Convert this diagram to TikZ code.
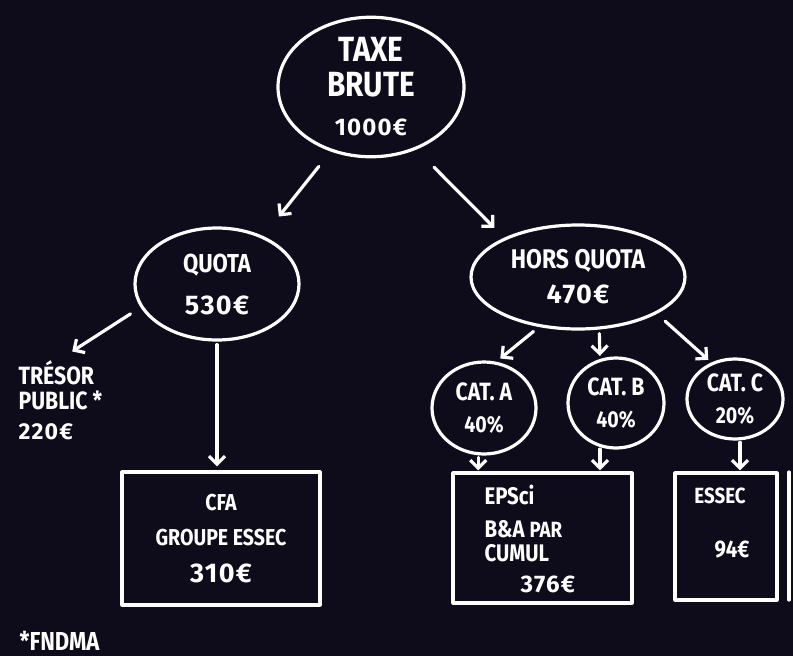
\documentclass[tikz,border=0pt]{standalone}
\usepackage{fontspec}
\setmainfont[FakeStretch=0.85]{Fira Sans}
\newfontfamily\numf[LetterSpace=5]{Fira Sans}
\usetikzlibrary{shapes.geometric,arrows.meta}
\definecolor{board}{HTML}{0E0B1A}
\newcommand{\tsz}[1]{\fontsize{#1}{#1}\selectfont\bfseries}
\newcommand{\nsz}[1]{\numf\fontsize{#1}{#1}\selectfont\bfseries}
\begin{document}
\begin{tikzpicture}[x=1pt,y=-1pt,line width=3.2pt,white,line cap=round,line join=round,
  bub/.style={draw,ellipse,inner sep=0pt,align=center},
  frame/.style={draw,rectangle,inner sep=0pt},
  lbl/.style={inner sep=0pt},
  arr/.style={-{Straight Barb[length=8pt,width=16pt]}}]
\useasboundingbox (0,0) rectangle (793,656);
\fill[board] (0,0) rectangle (793,656);

% ellipses
\node[bub,minimum width=186pt,minimum height=136pt,font=\tsz{35}] (taxe) at (371,87)
  {TAXE\\BRUTE\\[4pt]{\nsz{24}1000€}};
\node[bub,minimum width=164pt,minimum height=112pt,font=\tsz{26}] (quota) at (217,284)
  {QUOTA\\[16pt]{\nsz{27}530€}};
\node[bub,minimum width=214pt,minimum height=104pt,font=\tsz{27}] (hors) at (578,277)
  {HORS QUOTA\\[8pt]{\nsz{27}470€}};
\node[bub,minimum width=104pt,minimum height=92pt,font=\tsz{25}] (catA) at (484,408)
  {CAT. A\\[7pt]{\tsz{23}40\%}};
\node[bub,minimum width=96pt,minimum height=90pt,font=\tsz{25}] (catB) at (616,403)
  {CAT. B\\[7pt]{\tsz{23}40\%}};
\node[bub,minimum width=96pt,minimum height=80pt,font=\tsz{25}] (catC) at (735,399)
  {CAT. C\\[7pt]{\tsz{23}20\%}};

% texts
\node[lbl,anchor=north west,align=left,font=\tsz{25}] (tresor) at (17,359)
  {TRÉSOR\\[0pt]PUBLIC *\\[5pt]{\nsz{23}220€}};
\node[lbl,anchor=west,font=\tsz{26}] (fndma) at (18,641) {*FNDMA};

% boxes
\node[frame,minimum width=198pt,minimum height=133pt,align=center,font=\tsz{23}] (cfa) at (221,538.5)
  {CFA\\[12pt]GROUPE ESSEC\\[14pt]{\nsz{27}310€}};
\node[frame,minimum width=179pt,minimum height=130pt] (epsci) at (542.5,538) {};
\node[lbl,anchor=west,font=\tsz{24}] (ep1) at (483,495) {EPSci};
\node[lbl,anchor=west,font=\tsz{24}] (ep2) at (483,529) {B\&A {\tsz{22}PAR}};
\node[lbl,anchor=west,font=\tsz{24}] (ep3) at (483,553) {CUMUL};
\node[lbl,anchor=west,font=\tsz{24}] (ep4) at (519,584) {\nsz{24}376€};
\node[frame,minimum width=102pt,minimum height=127pt] (essec) at (726,536.5) {};
\node[lbl,font=\tsz{22}] (essectxt) at (720,496) {ESSEC};
\node[lbl,font=\tsz{24}] (essecval) at (732,550) {94€};
\draw (789,472) -- (789,600);

% arrows
\draw[arr,shorten <=19pt,shorten >=25pt] (taxe.-122) -- (quota.46);
\draw[arr,shorten <=25pt,shorten >=14pt] (taxe.-54) -- (hors.152);
\draw[arr,shorten <=12pt,shorten >=14pt] (quota.197) -- (tresor.north);
\draw[arr,shorten <=3pt,shorten >=4pt] (quota.south) -- (quota.south |- cfa.north);
\draw[arr,shorten <=7pt,shorten >=5pt] (hors.232) -- (catA.75);
\draw[arr,shorten <=4pt,shorten >=3pt] (hors.-68) -- (catB.110);
\draw[arr,shorten <=11pt,shorten >=4pt] (hors.-25) -- (catC.123);
\draw[arr,shorten <=2pt,shorten >=1pt] (catA.-97) -- (catA.-97 |- epsci.north);
\draw[arr,shorten <=2pt,shorten >=1pt] (catB.-110) -- (catB.-110 |- epsci.north);
\draw[arr,shorten <=2pt,shorten >=1pt] (catC.-83) -- (catC.-83 |- essec.north);
\end{tikzpicture}
\end{document}
